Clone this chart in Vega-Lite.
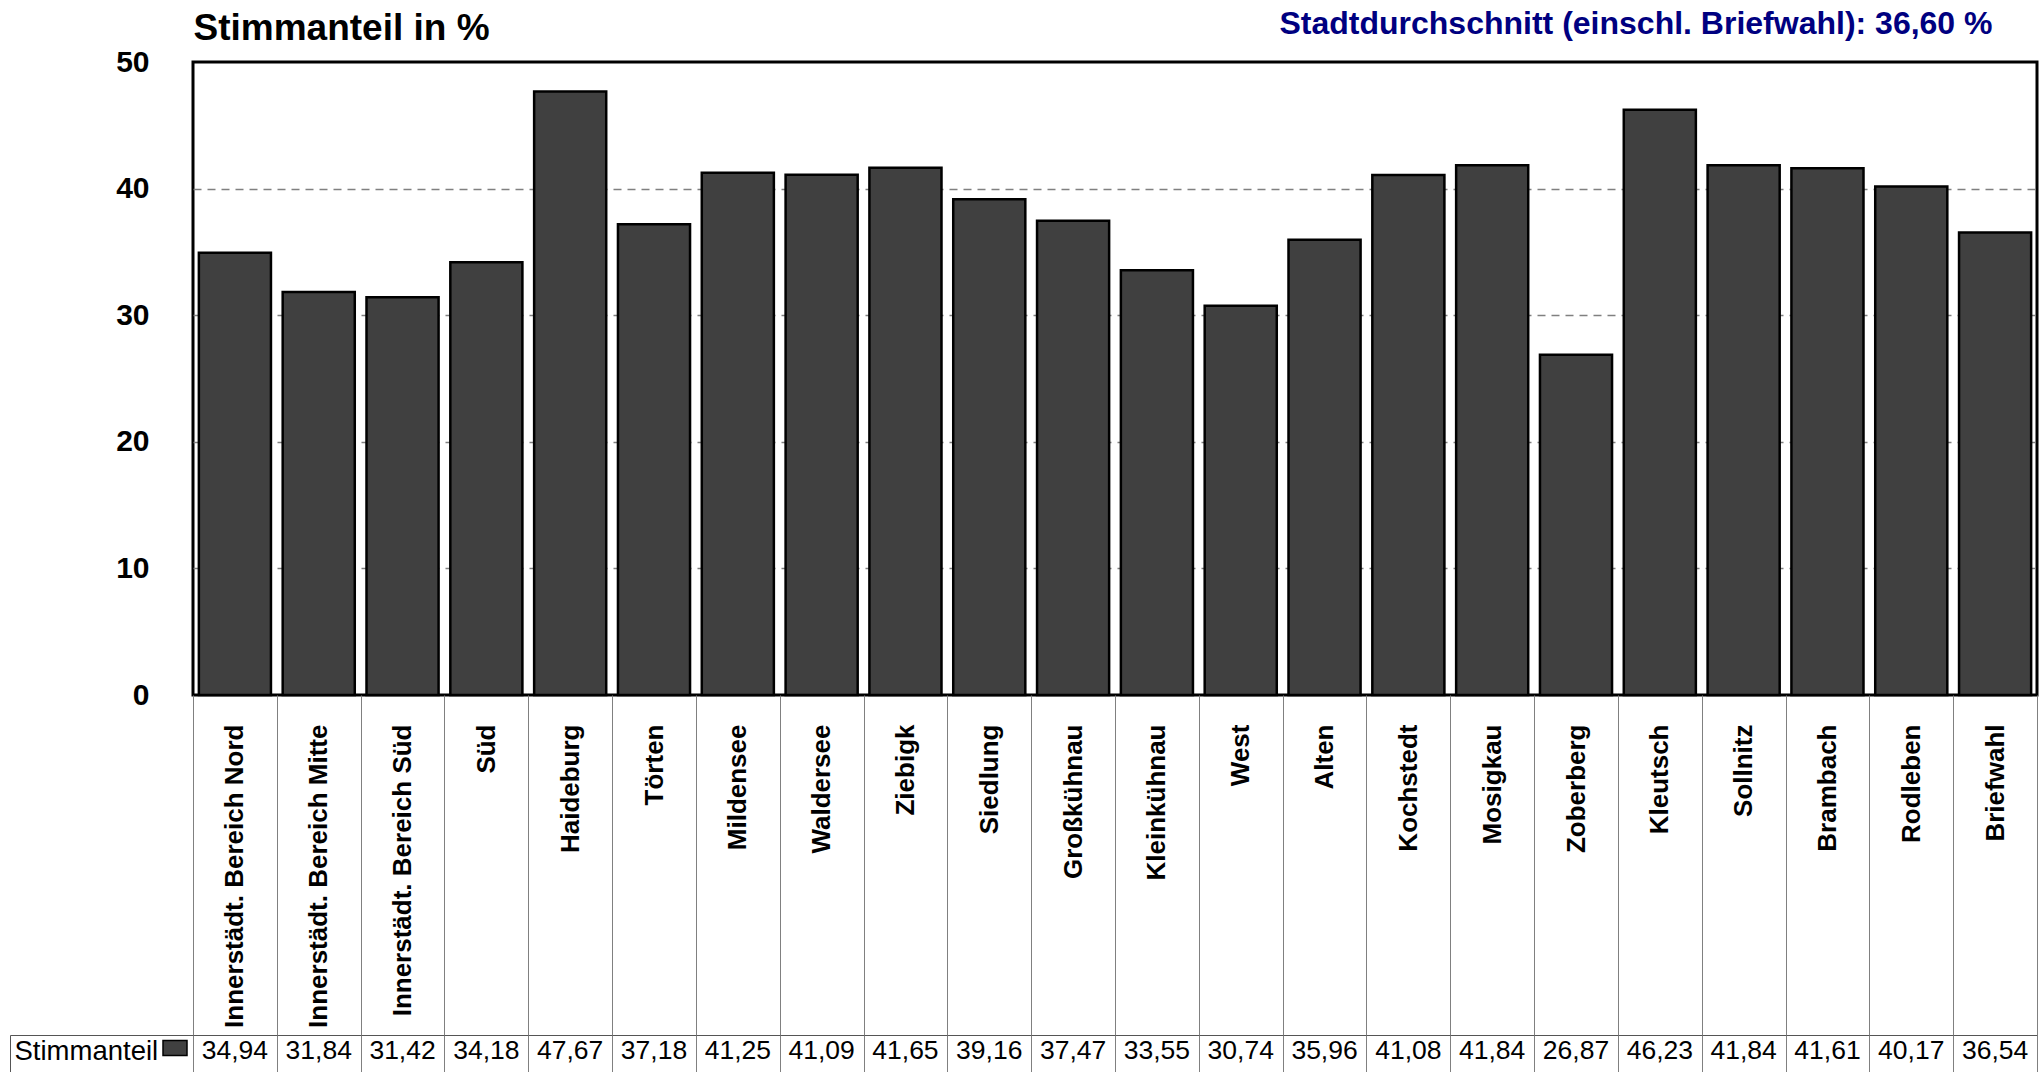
{
  "$schema": "https://vega.github.io/schema/vega-lite/v6.json",
  "padding": {"left": 9, "top": 5, "right": 0, "bottom": 0},
  "spacing": 340,
  "bounds": "flush",
  "background": "white",
  "config": {
    "font": "Liberation Sans",
    "locale": {"number": {"decimal": ",", "thousands": ".", "grouping": [3], "currency": ["", " €"]}},
    "axis": {"labelFont": "Liberation Sans", "titleFont": "Liberation Sans", "labelColor": "black", "titleColor": "black"},
    "legend": {"labelFont": "Liberation Sans"}
  },
  "datasets": {
    "wahl": [
      {"gebiet": "Innerstädt. Bereich Nord", "anteil": 34.94},
      {"gebiet": "Innerstädt. Bereich Mitte", "anteil": 31.84},
      {"gebiet": "Innerstädt. Bereich Süd", "anteil": 31.42},
      {"gebiet": "Süd", "anteil": 34.18},
      {"gebiet": "Haideburg", "anteil": 47.67},
      {"gebiet": "Törten", "anteil": 37.18},
      {"gebiet": "Mildensee", "anteil": 41.25},
      {"gebiet": "Waldersee", "anteil": 41.09},
      {"gebiet": "Ziebigk", "anteil": 41.65},
      {"gebiet": "Siedlung", "anteil": 39.16},
      {"gebiet": "Großkühnau", "anteil": 37.47},
      {"gebiet": "Kleinkühnau", "anteil": 33.55},
      {"gebiet": "West", "anteil": 30.74},
      {"gebiet": "Alten", "anteil": 35.96},
      {"gebiet": "Kochstedt", "anteil": 41.08},
      {"gebiet": "Mosigkau", "anteil": 41.84},
      {"gebiet": "Zoberberg", "anteil": 26.87},
      {"gebiet": "Kleutsch", "anteil": 46.23},
      {"gebiet": "Sollnitz", "anteil": 41.84},
      {"gebiet": "Brambach", "anteil": 41.61},
      {"gebiet": "Rodleben", "anteil": 40.17},
      {"gebiet": "Briefwahl", "anteil": 36.54}
    ]
  },
  "vconcat": [
    {
      "width": 1844,
      "height": 633,
      "data": {"name": "wahl"},
      "view": {"stroke": "black", "strokeWidth": 3},
      "layer": [
        {
          "mark": {"type": "bar", "stroke": "black", "strokeWidth": 2.5, "width": {"band": 0.86}},
          "encoding": {
            "x": {
              "field": "gebiet", "type": "nominal", "sort": null,
              "scale": {"paddingInner": 0, "paddingOuter": 0},
              "axis": {
                "orient": "bottom", "title": null, "domain": false, "grid": false,
                "ticks": true, "tickBand": "extent", "tickSize": 340, "tickColor": "#808080", "tickWidth": 1,
                "labelAngle": -90, "labelFontSize": 26, "labelFontWeight": "bold",
                "labelPadding": -311, "labelLimit": 400
              }
            },
            "y": {
              "field": "anteil", "type": "quantitative",
              "scale": {"domain": [0, 50], "nice": false},
              "axis": {
                "values": [0, 10, 20, 30, 40, 50],
                "title": "Stimmanteil in %", "titleAngle": 0, "titleX": 0, "titleY": -23,
                "titleAlign": "left", "titleBaseline": "alphabetic", "titleFontSize": 37, "titleFontWeight": "bold",
                "labelFontSize": 30, "labelFontWeight": "bold", "labelPadding": 44,
                "ticks": false, "domain": false, "grid": true,
                "gridColor": "#808080", "gridDash": [8, 6], "gridWidth": 1.5,
                "gridOpacity": {"condition": {"test": "datum.value == 0 || datum.value == 50", "value": 0}, "value": 1}
              }
            },
            "fill": {
              "datum": "Stimmanteil", "type": "nominal",
              "scale": {"range": ["#404040"]},
              "legend": {
                "orient": "none", "legendX": -31, "legendY": 973, "title": null,
                "labelFontSize": 14, "labelOpacity": 0, "labelExpr": "''",
                "symbolType": "M-1,-0.625H1V0.625H-1Z", "symbolSize": 576,
                "symbolFillColor": "#404040", "symbolOpacity": 1,
                "symbolStrokeColor": "black", "symbolStrokeWidth": 1.5, "padding": 0, "offset": 0
              }
            }
          }
        },
        {
          "mark": {"type": "bar", "opacity": 0},
          "encoding": {
            "x": {
              "field": "gebiet", "type": "nominal", "sort": null,
              "axis": {
                "orient": "top", "labels": false, "ticks": false, "domain": false, "grid": false,
                "title": "Stadtdurchschnitt (einschl. Briefwahl): 36,60 %",
                "titleX": 1799, "titleY": -29, "titleAlign": "right", "titleBaseline": "alphabetic",
                "titleFontSize": 32, "titleFontWeight": "bold", "titleColor": "#000080"
              }
            },
            "y": {"field": "anteil", "type": "quantitative"}
          }
        }
      ],
      "resolve": {"axis": {"x": "independent"}}
    },
    {
      "width": 1844,
      "height": 38,
      "data": {"name": "wahl"},
      "view": {"stroke": "#555555", "strokeWidth": 1},
      "mark": {"type": "text", "fontSize": 26.5, "baseline": "middle", "dy": -3, "color": "black"},
      "encoding": {
        "x": {
          "field": "gebiet", "type": "nominal", "sort": null,
          "scale": {"paddingInner": 0, "paddingOuter": 0},
          "axis": {"title": null, "labels": false, "ticks": false, "domain": false, "grid": true,
                   "tickBand": "extent", "gridColor": "#808080", "gridWidth": 1}
        },
        "y": {
          "datum": "Stimmanteil", "type": "nominal",
          "scale": {"type": "band", "paddingInner": 0, "paddingOuter": 0},
          "axis": {
            "title": null, "offset": 183, "domain": true, "domainColor": "#555555", "domainWidth": 1,
            "ticks": true, "tickBand": "extent", "tickSize": -183, "tickColor": "#555555", "tickWidth": 1,
            "labelAlign": "left", "labelPadding": 179, "labelOffset": -3, "labelFontSize": 27.5,
            "labelFontWeight": "normal", "labelBaseline": "middle", "grid": false
          }
        },
        "text": {"field": "anteil", "type": "quantitative", "format": ".2f"}
      }
    }
  ]
}
